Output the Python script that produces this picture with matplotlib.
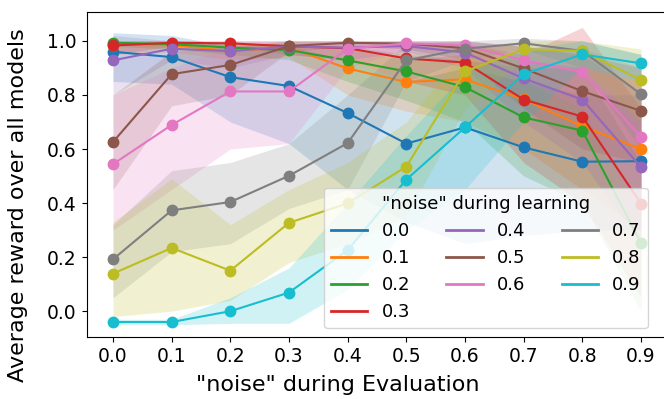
import numpy as np
import matplotlib
matplotlib.use("Agg")
import matplotlib.pyplot as plt

x_vals = [0.0, 0.1, 0.2, 0.3, 0.4, 0.5, 0.6, 0.7, 0.8, 0.9]
x_labels = ["0.0", "0.1", "0.2", "0.3", "0.4", "0.5", "0.6", "0.7", "0.8", "0.9"]
series_names = ["0.0", "0.1", "0.2", "0.3", "0.4", "0.5", "0.6", "0.7", "0.8", "0.9"]

mean_00 = [0.960, 0.940, 0.866, 0.833, 0.733, 0.620, 0.680, 0.606, 0.553, 0.555]
mean_01 = [0.985, 0.984, 0.963, 0.975, 0.898, 0.848, 0.858, 0.784, 0.684, 0.600]
mean_02 = [0.993, 0.988, 0.975, 0.966, 0.928, 0.887, 0.829, 0.717, 0.668, 0.253]
mean_03 = [0.983, 0.993, 0.991, 0.980, 0.973, 0.935, 0.920, 0.783, 0.720, 0.398]
mean_04 = [0.928, 0.971, 0.962, 0.979, 0.975, 0.981, 0.957, 0.861, 0.783, 0.533]
mean_05 = [0.626, 0.877, 0.911, 0.981, 0.993, 0.990, 0.973, 0.898, 0.814, 0.741]
mean_06 = [0.544, 0.689, 0.813, 0.813, 0.971, 0.991, 0.984, 0.928, 0.885, 0.644]
mean_07 = [0.192, 0.373, 0.404, 0.501, 0.622, 0.928, 0.971, 0.991, 0.963, 0.803]
mean_08 = [0.139, 0.234, 0.150, 0.327, 0.399, 0.535, 0.887, 0.969, 0.963, 0.855]
mean_09 = [-0.040, -0.040, 0.000, 0.069, 0.226, 0.487, 0.680, 0.877, 0.950, 0.917]

low_00 = [0.85, 0.84, 0.70, 0.62, 0.45, 0.33, 0.25, 0.28, 0.30, 0.30]
up_00 = [1.03, 1.02, 0.98, 0.98, 0.93, 0.85, 0.90, 0.85, 0.80, 0.80]
low_01 = [0.95, 0.96, 0.93, 0.94, 0.80, 0.74, 0.70, 0.60, 0.45, 0.30]
up_01 = [1.00, 1.00, 0.99, 0.99, 0.97, 0.93, 0.95, 0.93, 0.90, 0.85]
low_02 = [0.98, 0.97, 0.95, 0.93, 0.85, 0.78, 0.70, 0.50, 0.40, 0.00]
up_02 = [1.00, 1.00, 0.99, 0.99, 0.98, 0.95, 0.93, 0.90, 0.90, 0.55]
low_03 = [0.95, 0.98, 0.98, 0.95, 0.93, 0.85, 0.80, 0.55, 0.40, 0.05]
up_03 = [1.00, 1.00, 1.00, 1.00, 1.00, 0.99, 0.99, 0.95, 1.05, 0.75]
low_04 = [0.80, 0.93, 0.90, 0.95, 0.93, 0.96, 0.90, 0.70, 0.55, 0.25]
up_04 = [1.02, 1.00, 1.00, 1.00, 1.00, 1.00, 1.00, 0.98, 0.95, 0.80]
low_05 = [0.45, 0.76, 0.80, 0.96, 0.98, 0.97, 0.93, 0.75, 0.60, 0.55]
up_05 = [0.80, 0.96, 0.98, 1.00, 1.00, 1.00, 1.00, 0.98, 0.95, 0.90]
low_06 = [0.30, 0.45, 0.60, 0.62, 0.90, 0.97, 0.96, 0.85, 0.75, 0.35]
up_06 = [0.80, 0.90, 0.98, 0.98, 1.00, 1.00, 1.00, 0.98, 0.97, 0.90]
low_07 = [0.05, 0.22, 0.25, 0.38, 0.45, 0.85, 0.93, 0.97, 0.90, 0.60]
up_07 = [0.32, 0.52, 0.55, 0.62, 0.80, 0.99, 1.00, 1.01, 1.00, 0.95]
low_08 = [-0.02, 0.00, 0.04, 0.18, 0.25, 0.35, 0.75, 0.93, 0.90, 0.70]
up_08 = [0.33, 0.49, 0.32, 0.45, 0.55, 0.70, 0.97, 1.00, 1.00, 0.97]
low_09 = [-0.05, -0.05, -0.045, -0.045, 0.08, 0.30, 0.45, 0.70, 0.90, 0.85]
up_09 = [-0.03, -0.03, 0.05, 0.16, 0.40, 0.65, 0.88, 0.97, 1.00, 0.95]

means = [mean_00, mean_01, mean_02, mean_03, mean_04, mean_05, mean_06, mean_07, mean_08, mean_09]
lows = [low_00, low_01, low_02, low_03, low_04, low_05, low_06, low_07, low_08, low_09]
ups = [up_00, up_01, up_02, up_03, up_04, up_05, up_06, up_07, up_08, up_09]

colors = plt.get_cmap("tab10").colors

fig = plt.figure(figsize=(6.64, 3.99), dpi=100)
ax = fig.add_axes([0.1304, 0.155, 0.8747, 0.815])

for i, name in enumerate(series_names):
    ax.fill_between(x_vals, lows[i], ups[i], color=colors[i], alpha=0.2, linewidth=0)
for i, name in enumerate(series_names):
    ax.plot(x_vals, means[i], color=colors[i], lw=1.5, marker="o", ms=7.5, label=name)

ax.set_xlim(-0.045, 0.945)
ax.set_ylim(-0.096, 1.107)
ax.set_xticks(x_vals)
ax.set_xticklabels(x_labels)
ax.set_yticks([0.0, 0.2, 0.4, 0.6, 0.8, 1.0])
ax.tick_params(labelsize=13.5)
ax.set_xlabel('"noise" during Evaluation', fontsize=16)
ax.set_ylabel("Average reward over all models", fontsize=16)
ax.xaxis.set_label_coords(0.433, -0.148)
ax.yaxis.set_label_coords(-0.118, 0.406)
ax.xaxis.label.set_va("center")
ax.yaxis.label.set_va("center")

handles = [plt.Line2D([], [], color=colors[i], lw=2) for i in range(10)]
leg = ax.legend(handles, series_names, title='"noise" during learning', ncol=3,
                loc="lower right", bbox_to_anchor=(0.982, 0.0), fontsize=13, title_fontsize=13)

fig.savefig("out.png", dpi=100)
